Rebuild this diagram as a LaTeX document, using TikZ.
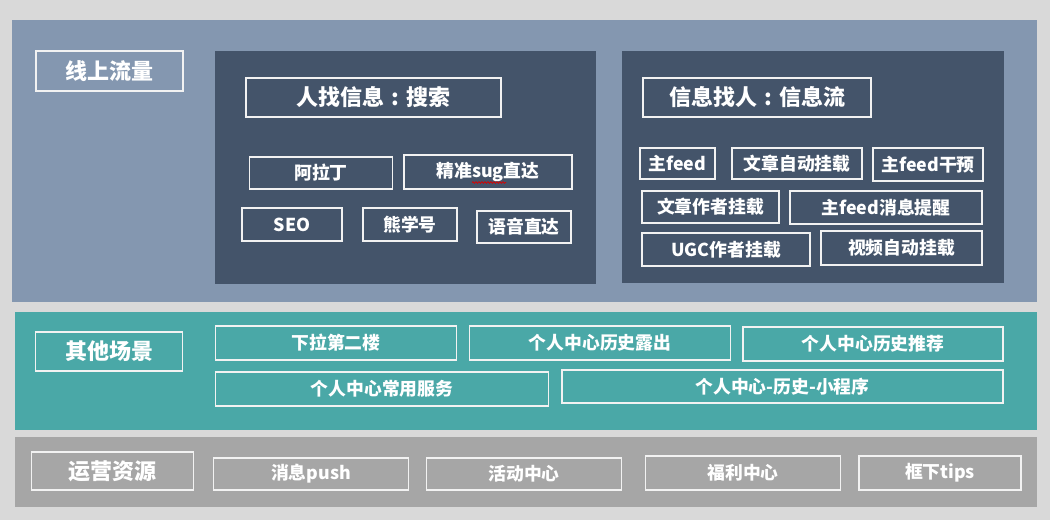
\documentclass[tikz,border=0pt]{standalone}
\usepackage{fontspec}
\newfontfamily\cjk{Noto Sans CJK SC}
\usetikzlibrary{decorations.pathmorphing}
\definecolor{bgc}{HTML}{D9D9D9}
\definecolor{topc}{HTML}{8497B0}
\definecolor{darkc}{HTML}{44546A}
\definecolor{tealc}{HTML}{4AA8A7}
\definecolor{grayc}{HTML}{A6A6A6}
\definecolor{linec}{HTML}{F2F2F2}
\tikzset{
  box/.style={draw=linec, line width=1.3pt, inner sep=0pt, text=white, font=\cjk\bfseries\fontsize{17.8}{18}\selectfont},
  titlebox/.style={box, font=\cjk\bfseries\fontsize{22}{22}\selectfont}
}
\newcommand{\colonc}{\makebox[1em][c]{:}}
\begin{document}
\begin{tikzpicture}[x=1pt,y=-1pt]
\useasboundingbox (0,0) rectangle (1050,520);
\fill[bgc] (0,0) rectangle (1050,520);
% panels
\fill[topc] (12,20) rectangle (1037,302);
\fill[tealc] (15,312) rectangle (1037,430);
\fill[grayc] (15,437) rectangle (1037,507);
\fill[darkc] (215,51) rectangle (596,284);
\fill[darkc] (622,51) rectangle (1004,283);
% top row
\node[titlebox, minimum width=147pt, minimum height=40pt] (t1) at (109.5,71) {线上流量};
\node[titlebox, minimum width=255pt, minimum height=39pt] (s1) at (373.5,97.5) {人找信息\colonc 搜索};
\node[box, minimum width=143pt, minimum height=32pt] (a) at (321,173) {阿拉丁};
\node[box, minimum width=168pt, minimum height=34pt] (b) at (488,172) {精准sug直达};
\node[box, minimum width=100pt, minimum height=33pt] (c) at (292,224.5) {SEO};
\node[box, minimum width=94pt, minimum height=33pt] (d) at (410,224.5) {熊学号};
\node[box, minimum width=94pt, minimum height=32pt] (e) at (524,227) {语音直达};
\draw[red!85!black, line width=0.7pt, decorate, decoration={snake, amplitude=0.9pt, segment length=3pt}] ([shift={(-16,10.5)}]b.center) -- ([shift={(18,10.5)}]b.center);
\node[titlebox, minimum width=228pt, minimum height=39pt] (s2) at (757,97.5) {信息找人\colonc 信息流};
\node[box, minimum width=75pt, minimum height=31pt] (f) at (677.5,163.5) {主feed};
\node[box, minimum width=130pt, minimum height=31pt] (g) at (797,163.5) {文章自动挂载};
\node[box, minimum width=110pt, minimum height=33pt] (h) at (928,164.5) {主feed干预};
\node[box, minimum width=137pt, minimum height=32pt] (i) at (710.5,207) {文章作者挂载};
\node[box, minimum width=192pt, minimum height=33pt] (j) at (886,207.5) {主feed消息提醒};
\node[box, minimum width=168pt, minimum height=33pt] (k) at (726,249.5) {UGC作者挂载};
\node[box, minimum width=161pt, minimum height=34pt] (l) at (901.5,248) {视频自动挂载};
% teal row
\node[titlebox, minimum width=147pt, minimum height=39pt] (t2) at (109,351.5) {其他场景};
\node[box, minimum width=241pt, minimum height=34pt] (m) at (336,343) {下拉第二楼};
\node[box, minimum width=261pt, minimum height=34pt] (n) at (600,343) {个人中心历史露出};
\node[box, minimum width=260pt, minimum height=34pt] (o) at (873,344) {个人中心历史推荐};
\node[box, minimum width=333pt, minimum height=34pt] (p) at (382,389) {个人中心常用服务};
\node[box, minimum width=441pt, minimum height=33pt] (q) at (782.5,386.5) {个人中心-历史-小程序};
% gray row
\node[titlebox, minimum width=162pt, minimum height=38pt] (t3) at (112.5,471) {运营资源};
\node[box, minimum width=195pt, minimum height=32pt] (r) at (311,474) {消息push};
\node[box, minimum width=195pt, minimum height=32pt] (s) at (524,474) {活动中心};
\node[box, minimum width=195pt, minimum height=34pt] (u) at (743,473) {福利中心};
\node[box, minimum width=162pt, minimum height=34pt] (v) at (940,473) {框下tips};
\end{tikzpicture}
\end{document}
